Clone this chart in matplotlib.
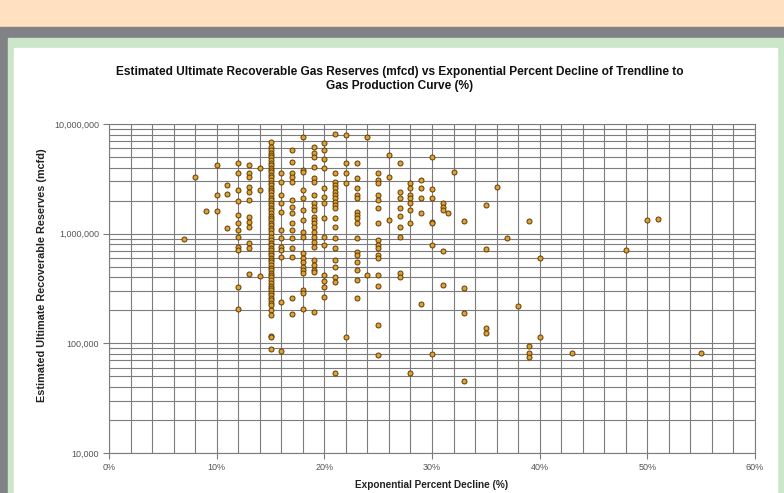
import matplotlib
matplotlib.use("Agg")
import matplotlib.pyplot as plt
import numpy as np
from matplotlib.ticker import FuncFormatter, MultipleLocator, LogLocator, NullFormatter
from matplotlib.patches import Rectangle

# exponential percent decline (%) of each column of points
col_pct = [7, 8, 9, 10, 11, 12, 13, 14, 15, 16, 17, 18, 19, 20, 21, 22, 23, 24, 25,
           26, 27, 28, 29, 30, 31, 31.5, 32, 33, 35, 36, 37, 38, 39, 40, 43, 48, 50, 51, 55]

# estimated ultimate recoverable reserves (millions of mcfd) per column
col_res = [
    [0.895],
    [3.29],
    [1.61],
    [4.23, 2.25, 1.61],
    [2.78, 2.30, 1.13],
    [4.41, 3.57, 2.50, 1.99, 1.48, 1.25, 1.08, 0.933, 0.756, 0.71, 0.327, 0.206],
    [4.23, 3.57, 3.29, 2.67, 2.40, 2.03, 1.42, 1.28, 1.15, 0.823, 0.741, 0.429],
    [3.97, 2.50, 0.412],
    [6.85, 6.17, 5.79, 5.44, 5.22, 5.00, 4.70, 4.41, 4.23, 3.97, 3.81, 3.65, 3.43, 3.29,
     3.09, 2.90, 2.78, 2.61, 2.50, 2.40, 2.25, 2.12, 2.03, 1.91, 1.83, 1.71, 1.64, 1.54,
     1.45, 1.39, 1.33, 1.25, 1.20, 1.13, 1.08, 1.01, 0.933, 0.876, 0.823, 0.789, 0.741,
     0.71, 0.667, 0.64, 0.60, 0.576, 0.552, 0.518, 0.487, 0.467, 0.438, 0.42, 0.403,
     0.378, 0.355, 0.334, 0.32, 0.307, 0.288, 0.276, 0.259, 0.249, 0.234, 0.224, 0.202,
     0.182, 0.117, 0.114, 0.089],
    [3.57, 2.96, 2.25, 1.91, 1.58, 1.08, 0.914, 0.756, 0.71, 0.613, 0.238, 0.085],
    [5.79, 4.50, 3.57, 3.29, 2.96, 2.03, 1.75, 1.54, 1.25, 1.08, 0.914, 0.741, 0.613,
     0.259, 0.185],
    [7.61, 3.81, 3.65, 2.50, 2.12, 1.64, 1.33, 1.04, 0.933, 0.667, 0.60, 0.552, 0.497,
     0.467, 0.438, 0.307, 0.288, 0.206],
    [6.17, 5.44, 5.00, 4.06, 3.22, 2.96, 2.25, 1.91, 1.75, 1.64, 1.42, 1.33, 1.25, 1.15,
     1.04, 0.933, 0.84, 0.756, 0.576, 0.518, 0.467, 0.448, 0.193],
    [6.71, 5.79, 4.80, 3.97, 2.61, 2.16, 1.91, 1.39, 0.933, 0.789, 0.42, 0.371, 0.327, 0.265],
    [8.11, 3.57, 2.96, 2.78, 2.61, 2.40, 2.25, 2.12, 1.95, 1.83, 1.71, 1.39, 1.15, 0.914,
     0.741, 0.576, 0.497, 0.403, 0.363, 0.054],
    [7.94, 4.41, 3.57, 2.90, 0.114],
    [4.41, 3.22, 2.61, 2.25, 2.12, 1.58, 1.48, 1.39, 1.25, 0.914, 0.681, 0.64, 0.552,
     0.467, 0.378, 0.259],
    [7.61, 0.42],
    [3.57, 3.09, 2.90, 2.25, 2.03, 1.71, 1.25, 0.876, 0.789, 0.741, 0.64, 0.60, 0.42,
     0.334, 0.147, 0.078],
    [5.22, 3.29, 1.33],
    [4.41, 2.40, 2.12, 1.71, 1.45, 1.15, 0.933, 0.438, 0.403],
    [2.90, 2.61, 2.25, 2.12, 1.91, 1.64, 1.25, 0.054],
    [3.09, 2.61, 2.12, 1.54, 0.229],
    [5.00, 2.56, 2.12, 1.28, 1.25, 0.789, 0.080],
    [1.91, 1.75, 1.64, 0.696, 0.341],
    [1.54],
    [3.65],
    [1.31, 0.32, 0.189, 0.045],
    [1.83, 0.725, 0.138, 0.124],
    [2.67],
    [0.914],
    [0.219],
    [1.31, 0.095, 0.082, 0.075],
    [0.60, 0.114],
    [0.082],
    [0.71],
    [1.33],
    [1.36],
    [0.082],
]

title = ("Estimated Ultimate Recoverable Gas Reserves (mfcd) vs Exponential Percent Decline of Trendline to\n"
         "Gas Production Curve (%)")
xlabel = "Exponential Percent Decline (%)"
ylabel = "Estimated Ultimate Recoverable Reserves (mcfd)"

x = []
y = []
for p, vals in zip(col_pct, col_res):
    for v in vals:
        x.append(p)
        y.append(v * 1e6)

plt.rcParams['font.family'] = ['Liberation Sans', 'DejaVu Sans']

W, H = 784, 493
fig = plt.figure(figsize=(W / 100, H / 100), dpi=100)
fig.patch.set_facecolor("white")

# page frame: peach band, gray border, green mat, white panel
def box(x0, y0, x1, y1, color):
    fig.patches.append(Rectangle((x0 / W, 1 - y1 / H), (x1 - x0) / W, (y1 - y0) / H,
                                 transform=fig.transFigure, color=color, zorder=-10))

box(0, 0, W, 27, "#FFE0C0")
box(0, 27, W, H, "#808285")
box(8, 38, W, H, "#CCE6C9")
box(14, 48, 777, H, "white")

ax = fig.add_axes([109 / W, 1 - 453 / H, (755 - 109) / W, (453 - 124) / H])
ax.set_facecolor("white")
ax.set_yscale("log")
ax.set_xlim(0, 60)
ax.set_ylim(1e4, 1e7)

gridc = "#7c7c7c"
ax.xaxis.set_major_locator(MultipleLocator(10))
ax.xaxis.set_minor_locator(MultipleLocator(2))
ax.yaxis.set_major_locator(LogLocator(base=10))
ax.yaxis.set_minor_locator(LogLocator(base=10, subs=np.arange(2, 10)))
ax.yaxis.set_minor_formatter(NullFormatter())
ax.grid(True, which="both", color=gridc, lw=0.8)
ax.set_axisbelow(True)

ax.xaxis.set_major_formatter(FuncFormatter(lambda v, pos: "{:.0f}%".format(v)))
ax.yaxis.set_major_formatter(FuncFormatter(lambda v, pos: "{:,.0f}".format(v)))
ax.tick_params(which="major", length=4, width=0.8, color=gridc, labelsize=6.5,
               labelcolor="#555555", pad=3)
ax.tick_params(which="minor", length=0)
for s in ax.spines.values():
    s.set_color(gridc)
    s.set_linewidth(0.8)

ax.scatter(x, y, s=13, facecolor="#E0A035", edgecolor="#5C3D05", linewidth=0.7,
           zorder=3, clip_on=False)

fig.text(400 / W, 1 - 79 / H, title, ha="center", va="center", fontsize=8.6,
         fontweight="bold", color="#111111", linespacing=1.3)
fig.text(432 / W, 1 - 485 / H, xlabel, ha="center", va="center", fontsize=7.2,
         fontweight="bold", color="#222222")
fig.text(42 / W, 1 - 275 / H, ylabel, ha="center", va="center", rotation=90,
         fontsize=7.8, fontweight="bold", color="#222222")

fig.savefig("out.png", dpi=100)
